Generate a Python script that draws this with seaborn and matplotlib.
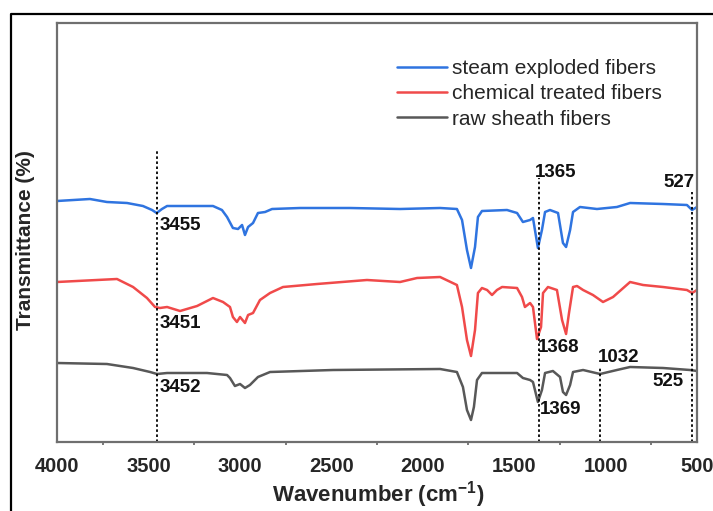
import numpy as np
import pandas as pd
import matplotlib
matplotlib.use("Agg")
import matplotlib.pyplot as plt
from matplotlib.lines import Line2D
from matplotlib.ticker import MultipleLocator
import seaborn as sns

# ---------------- data ----------------
steam_wn = [4000, 3820, 3727, 3617, 3530, 3480, 3455, 3426, 3398, 3147, 3098, 3070, 3038,
            3010, 2988, 2972, 2955, 2928, 2901, 2862, 2824, 2671, 2398, 2124, 1905, 1813,
            1785, 1758, 1736, 1714, 1698, 1676, 1539, 1484, 1452, 1413, 1397, 1370, 1348,
            1331, 1304, 1260, 1233, 1216, 1194, 1178, 1140, 1047, 938, 866, 686, 555, 527, 500]
steam_T = [241, 243, 240, 239, 236, 232, 229, 233, 236, 236, 232, 225, 214,
           213, 217, 207, 215, 219, 229, 230, 233, 234, 234, 233, 234, 233,
           222, 192, 174, 195, 225, 231, 232, 229, 220, 222, 224, 194, 212,
           230, 232, 229, 199, 195, 212, 230, 235, 233, 235, 239, 238, 237, 232, 235]

chem_wn = [4000, 3672, 3584, 3508, 3464, 3437, 3398, 3327, 3234, 3147, 3092, 3054, 3038,
           3016, 2999, 2972, 2955, 2928, 2890, 2835, 2764, 2578, 2305, 2124, 2031, 1905,
           1813, 1785, 1758, 1736, 1714, 1698, 1676, 1648, 1621, 1594, 1566, 1484, 1457,
           1441, 1413, 1397, 1375, 1353, 1342, 1315, 1266, 1238, 1216, 1200, 1178, 1156,
           1123, 1069, 1014, 959, 866, 795, 686, 555, 527, 500]
chem_T = [160, 163, 155, 144, 135, 134, 135, 131, 136, 144, 140, 135, 125,
          120, 125, 119, 127, 129, 142, 149, 155, 158, 162, 160, 164, 165,
          157, 135, 102, 86, 112, 149, 154, 152, 147, 152, 155, 154, 145,
          135, 139, 135, 103, 115, 149, 155, 152, 122, 108, 129, 155, 156,
          152, 147, 140, 145, 160, 157, 155, 152, 149, 152]

raw_wn = [4000, 3727, 3584, 3491, 3453, 3398, 3180, 3070, 3054, 3027, 2999, 2972, 2945,
          2901, 2835, 2491, 1905, 1813, 1780, 1758, 1736, 1720, 1703, 1676, 1484, 1452,
          1413, 1397, 1370, 1348, 1331, 1288, 1249, 1233, 1216, 1194, 1178, 1123, 1030,
          938, 866, 686, 538, 500]
raw_T = [79, 78, 74, 70, 68, 69, 69, 67, 64, 56, 58, 54, 57,
         65, 70, 72, 73, 70, 55, 32, 22, 35, 62, 69, 69, 64,
         62, 60, 40, 52, 69, 71, 65, 50, 47, 57, 70, 72, 68,
         72, 75, 74, 72, 71]

series_names = ["steam exploded fibers", "chemical treated fibers", "raw sheath fibers"]
series_colors = ["#2f74e0", "#f04a4a", "#585858"]

# reference lines (wavenumber, top of dotted line)
ref_wn = [3455, 1365, 1032, 527]
ref_top = [292, 264, 75, 250]

# peak labels
peak_text = ["3455", "3451", "3452", "1365", "527", "1368", "1032", "525", "1369"]
peak_x = [3437, 3437, 3437, 1386, 686, 1370, 1041, 746, 1359]
peak_y = [217, 119, 55, 270, 260, 94, 84, 61, 33]

x_ticks = [4000, 3500, 3000, 2500, 2000, 1500, 1000, 500]

# ---------------- build the figure ----------------
df = pd.concat([
    pd.DataFrame({"wn": steam_wn, "T": steam_T, "sample": series_names[0]}),
    pd.DataFrame({"wn": chem_wn, "T": chem_T, "sample": series_names[1]}),
    pd.DataFrame({"wn": raw_wn, "T": raw_T, "sample": series_names[2]}),
])

sns.set_style("white")
plt.rcParams["font.family"] = ["Liberation Sans", "DejaVu Sans"]
plt.rcParams["mathtext.fontset"] = "custom"
plt.rcParams["mathtext.bf"] = "Liberation Sans:bold"
plt.rcParams["mathtext.rm"] = "Liberation Sans:bold"

fig = plt.figure(figsize=(7.13, 5.11), dpi=100)
ax = fig.add_axes([57 / 713, 1 - 442 / 511, 640 / 713, 419 / 511])

sns.lineplot(data=df, x="wn", y="T", hue="sample", hue_order=series_names,
             palette=series_colors, estimator=None, linewidth=1.8, ax=ax, legend=False)

for wn, top in zip(ref_wn, ref_top):
    ax.plot([wn, wn], [0, top], color="black", linestyle=(0, (1.4, 1.4)), linewidth=1.3)

for t, x, y in zip(peak_text, peak_x, peak_y):
    ax.text(x, y, t, ha="left", va="center", fontsize=13.5, fontweight="bold", color="#111111")

ax.set_xlim(4000, 500)
ax.set_ylim(0, 419)
ax.set_xticks(x_ticks)
ax.set_xticklabels([str(v) for v in x_ticks])
ax.xaxis.set_minor_locator(MultipleLocator(250))
ax.set_yticks([])
ax.set_xlabel("")
ax.set_ylabel("")

for s in ax.spines.values():
    s.set_visible(True)
    s.set_color("#6f6f6f")
    s.set_linewidth(1.6)

ax.tick_params(axis="x", which="major", direction="out", length=5, width=1.3,
               color="#555555", pad=6, labelsize=14.5)
ax.tick_params(axis="x", which="minor", direction="out", length=2.5, width=1.1,
               color="#555555", bottom=True)
for lab in ax.get_xticklabels():
    lab.set_fontweight("bold")

handles = [Line2D([], [], color=c, linewidth=1.8) for c in series_colors]
ax.legend(handles, series_names, loc="upper left",
          bbox_to_anchor=(397 / 713, 1 - 59 / 511), bbox_transform=fig.transFigure,
          frameon=False, fontsize=15, handlelength=2.4, handletextpad=0.25,
          labelspacing=0.3, borderpad=0, borderaxespad=0)

fig.text(26 / 713, 1 - 240 / 511, "Transmittance (%)", rotation=90, ha="center",
         va="center", fontsize=15, fontweight="bold")
fig.text(378 / 713, 1 - 495 / 511, r"Wavenumber (cm$^{\mathbf{-1}}$)", ha="center",
         va="center", fontsize=16, fontweight="bold")

# outer frame (left and top edges)
fig.add_artist(Line2D([11 / 713, 11 / 713, 1.0], [0.0, 1 - 14 / 511, 1 - 14 / 511],
                      transform=fig.transFigure, color="black", linewidth=1.6))

fig.savefig("out.png", dpi=100)
